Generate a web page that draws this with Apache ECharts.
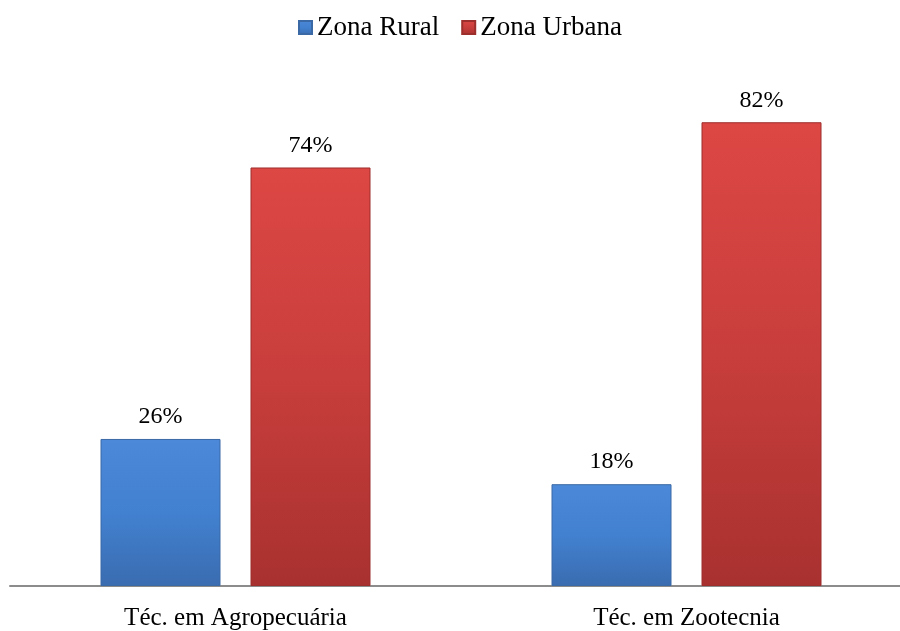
<!DOCTYPE html>
<html>
<head>
<meta charset="utf-8">
<script src="https://cdn.jsdelivr.net/npm/echarts@6/dist/echarts.min.js"></script>
<style>
  html, body { margin: 0; padding: 0; background: #fff; overflow: hidden; }
  /* a bit wider than the window so the second group lands where it should */
  #chart { width: 912px; height: 631px; }
</style>
</head>
<body>
<div id="chart"></div>
<script>
const categories = ['Téc. em Agropecuária', 'Téc. em Zootecnia']
const rural = [26, 18]
const urbana = [74, 82]

function barFill(top, mid, bottom) {
  return new echarts.graphic.LinearGradient(0, 0, 0, 1, [
    { offset: 0, color: top },
    { offset: 0.5, color: mid },
    { offset: 1, color: bottom }
  ])
}

const myChart = echarts.init(document.getElementById('chart'))
const font = '"Liberation Serif", "Times New Roman", serif'

myChart.setOption({
  animation: false,
  textStyle: { fontFamily: font },
  legend: {
    top: 9,
    left: 293,
    icon: 'rect',
    itemWidth: 13,
    itemHeight: 13,
    itemGap: 22,
    textStyle: { fontFamily: font, fontSize: 27, color: '#000' },
    data: ['Zona Rural', 'Zona Urbana']
  },
  grid: { left: 10, right: 0, top: 77, bottom: 45, containLabel: false },
  xAxis: {
    type: 'category',
    data: categories,
    axisLine: { lineStyle: { color: '#8c8c8c', width: 2 } },
    axisTick: { show: false },
    axisLabel: { fontFamily: font, fontSize: 25, color: '#000', margin: 20 }
  },
  yAxis: {
    type: 'value',
    min: 0,
    max: 90,
    show: false
  },
  series: [{
    name: 'Zona Rural',
    type: 'bar',
    barWidth: 120,
    barGap: '25%',
    data: rural,
    itemStyle: {
      color: barFill('#4c89d8', '#4281d0', '#3a6cb0'),
      borderColor: '#3a69a6',
      borderWidth: 1
    },
    label: {
      show: true, position: 'top', distance: 10,
      formatter: '{c}%', fontFamily: font, fontSize: 24, color: '#000'
    }
  }, {
    name: 'Zona Urbana',
    type: 'bar',
    barWidth: 120,
    barGap: '25%',
    data: urbana,
    itemStyle: {
      color: barFill('#dd4744', '#c83e3c', '#a8312f'),
      borderColor: '#9c2e2c',
      borderWidth: 1
    },
    label: {
      show: true, position: 'top', distance: 10,
      formatter: '{c}%', fontFamily: font, fontSize: 24, color: '#000'
    }
  }]
})
</script>
</body>
</html>
